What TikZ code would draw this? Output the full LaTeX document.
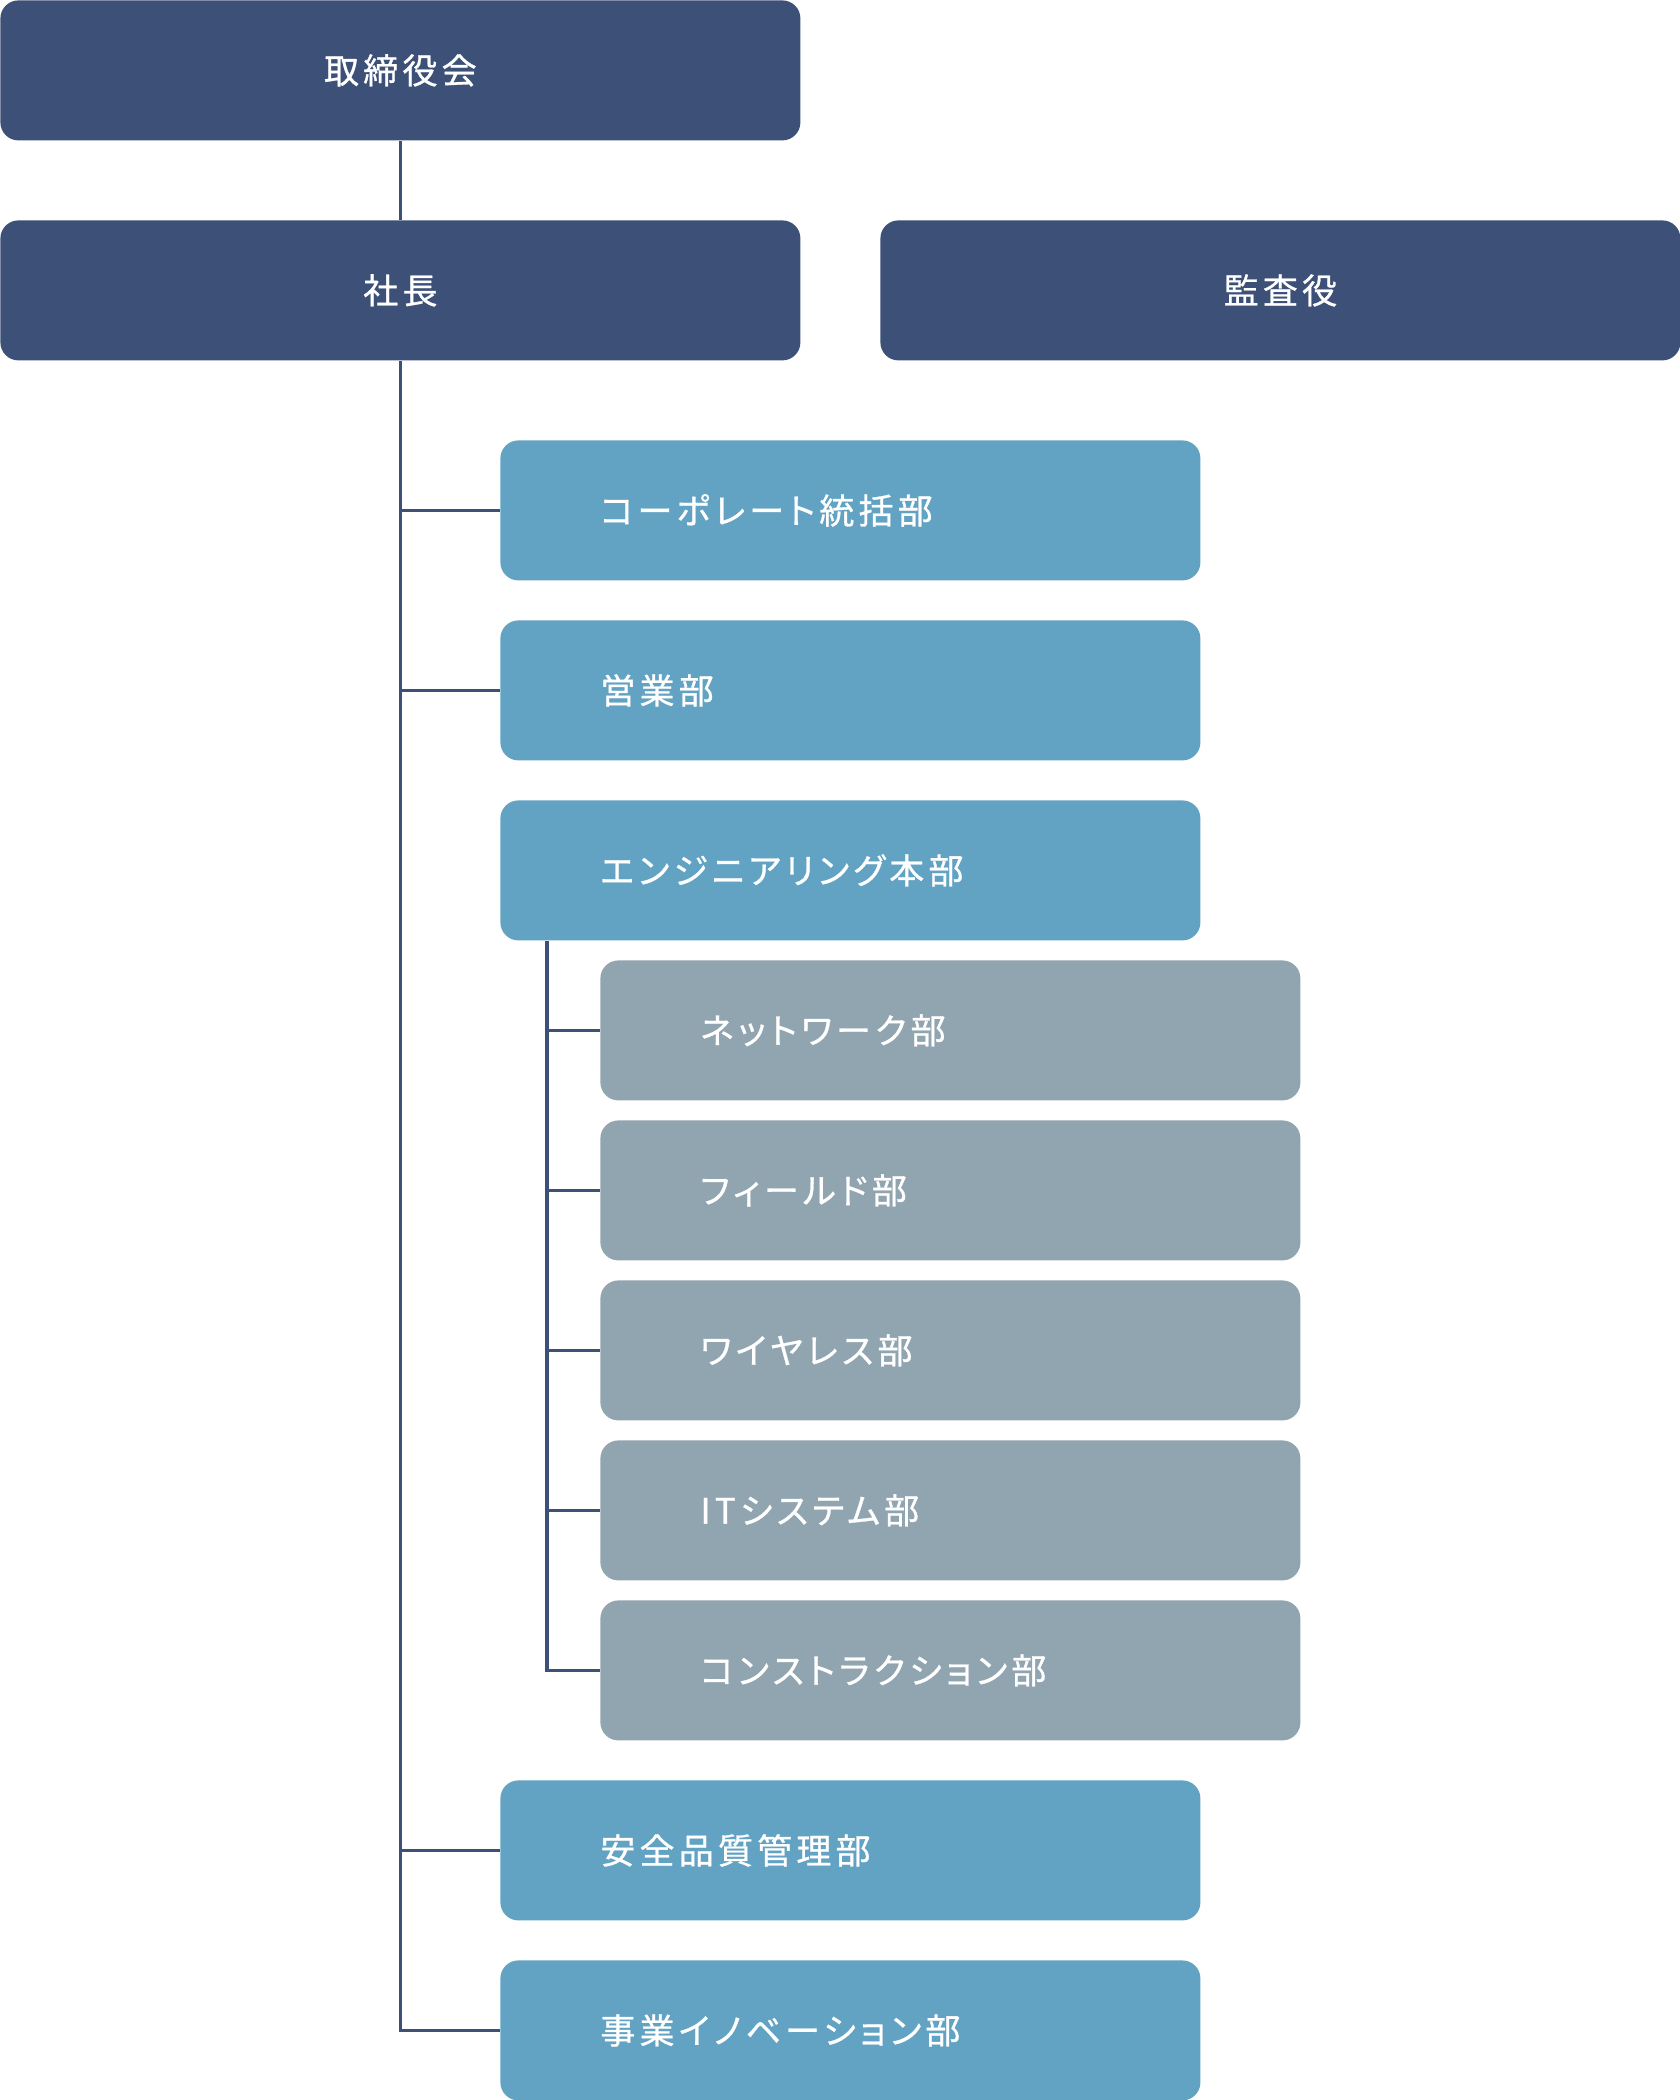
\documentclass[tikz,border=0pt]{standalone}
\usepackage{fontspec}
\newfontfamily\jpfont{Noto Sans CJK JP}[LetterSpace=12,RawFeature=+palt,FakeBold=0.8]
\definecolor{navy}{HTML}{3C5078}
\definecolor{lblue}{HTML}{62A3C4}
\definecolor{grayblue}{HTML}{91A5B0}
\begin{document}
\begin{tikzpicture}[x=0.5pt,y=-0.5pt,
  box/.style={rectangle, rounded corners=9pt, draw=none, inner ysep=0pt,
    minimum height=70pt, anchor=north west, text=white,
    font=\jpfont\fontsize{17.5pt}{21pt}\selectfont},
  topbox/.style={box, fill=navy, minimum width=400pt, align=center},
  deptbox/.style={box, fill=lblue, inner xsep=50pt, text width=250pt, align=left},
  subbox/.style={box, fill=grayblue, inner xsep=50pt, text width=250pt, align=left},
  link/.style={draw=navy, line width=1.75pt}]
\useasboundingbox[fill=white] (0,0) rectangle (1680,2100);
\node[topbox] (board) at (0,0) {取締役会};
\node[topbox] (pres) at (0,220) {社長};
\node[topbox] (audit) at (880,220) {監査役};
\node[deptbox] (corp) at (500,440) {コーポレート統括部};
\node[deptbox] (sales) at (500,620) {営業部};
\node[deptbox] (eng) at (500,800) {エンジニアリング本部};
\node[subbox] (net) at (600,960) {ネットワーク部};
\node[subbox] (field) at (600,1120) {フィールド部};
\node[subbox] (wire) at (600,1280) {ワイヤレス部};
\node[subbox] (its) at (600,1440) {ITシステム部};
\node[subbox] (cons) at (600,1600) {コンストラクション部};
\node[deptbox] (safe) at (500,1780) {安全品質管理部};
\node[deptbox] (innov) at (500,1960) {事業イノベーション部};
\coordinate (engdrop) at ([xshift=23.5pt]eng.south west);
\draw[link] (board.south) -- (pres.north);
\draw[link] (pres.south) |- (innov.west);
\foreach \n in {corp,sales,safe}
  \draw[link] (pres.south |- \n.west) -- (\n.west);
\draw[link] (engdrop) |- (cons.west);
\foreach \n in {net,field,wire,its}
  \draw[link] (engdrop |- \n.west) -- (\n.west);
\end{tikzpicture}
\end{document}
